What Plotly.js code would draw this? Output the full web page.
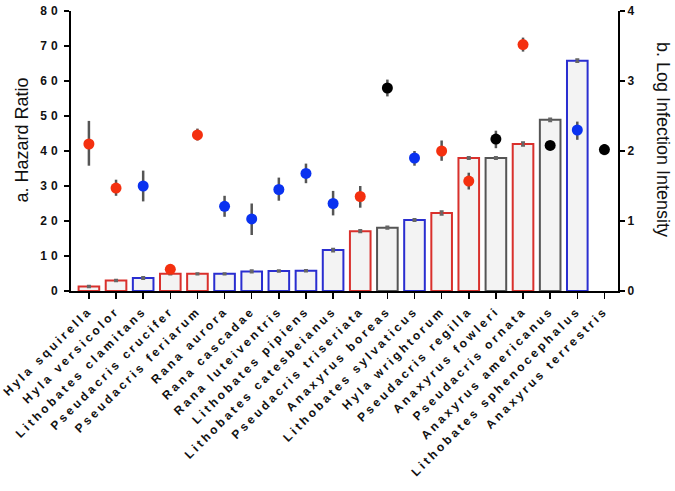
<!DOCTYPE html>
<html>
<head>
<meta charset="utf-8">
<script src="https://cdn.plot.ly/plotly-3.0.1.min.js"></script>
<style>
  html, body { margin:0; padding:0; background:#fff; }
  #chart { width:675px; height:491px; }
  .xtick text { letter-spacing: 3px; }
  .ytick text { letter-spacing: 4px; }
</style>
</head>
<body>
<div id="chart"></div>
<script>
// Species (x categories)
const species = [
  "Hyla squirella","Hyla versicolor","Lithobates clamitans","Pseudacris crucifer",
  "Pseudacris feriarum","Rana aurora","Rana cascadae","Rana luteiventris",
  "Lithobates pipiens","Lithobates catesbeianus","Pseudacris triseriata","Anaxyrus boreas",
  "Lithobates sylvaticus","Hyla wrightorum","Pseudacris regilla","Anaxyrus fowleri",
  "Pseudacris ornata","Anaxyrus americanus","Lithobates sphenocephalus","Anaxyrus terrestris"
];
// Group of each species: r = red, b = blue, k = black/gray
const groups = ["r","r","b","r","r","b","b","b","b","b","r","k","b","r","r","k","r","k","b","k"];

// a. Hazard ratio (bars, left axis)
const hazardRatio = [1.3, 3.0, 3.7, 4.9, 4.9, 4.9, 5.6, 5.7, 5.8, 11.7, 17.1, 18.1, 20.3, 22.3, 38.0, 38.0, 42.0, 48.9, 65.8, null];
const hazardErr   = [0.2, 0.2, 0.3, 0.2, 0.2, 0.2, 0.3, 0.2, 0.2, 0.4, 0.3, 0.3, 0.3, 0.5, 0.3, 0.3, 0.5, 0.4, 0.4, null];

// b. Log infection intensity (points, right axis)
const logIntensity = [2.10, 1.47, 1.50, 0.31, 2.23, 1.21, 1.03, 1.45, 1.68, 1.25, 1.35, 2.90, 1.90, 2.00, 1.57, 2.17, 3.52, 2.08, 2.30, 2.02];
const intensityUp  = [0.33, 0.12, 0.22, 0.00, 0.09, 0.15, 0.22, 0.17, 0.14, 0.18, 0.15, 0.12, 0.10, 0.15, 0.12, 0.12, 0.10, 0.05, 0.12, 0.08];
const intensityDn  = [0.31, 0.11, 0.22, 0.00, 0.08, 0.15, 0.23, 0.16, 0.14, 0.17, 0.16, 0.12, 0.11, 0.14, 0.12, 0.13, 0.10, 0.05, 0.14, 0.08];

const barLineColors = {r:"#d9302c", b:"#2a2ed0", k:"#555555"};
const dotColors     = {r:"#f4300f", b:"#0a32f0", k:"#000000"};

const fontFam = "Liberation Sans, Arial, Helvetica, sans-serif";

const bars = {
  type: "bar",
  x: species,
  y: hazardRatio,
  width: 0.76,
  marker: {
    color: "#f3f3f3",
    line: { color: groups.map(g => barLineColors[g]), width: 2 }
  },
  error_y: { type: "data", array: hazardErr, visible: true, color: "#666", thickness: 2, width: 2 },
  yaxis: "y",
  hoverinfo: "x+y",
  showlegend: false
};

const dots = {
  type: "scatter",
  mode: "markers",
  x: species,
  y: logIntensity,
  marker: { color: groups.map(g => dotColors[g]), size: 11 },
  error_y: { type: "data", symmetric: false, array: intensityUp, arrayminus: intensityDn,
             visible: true, color: "#555", thickness: 2.5, width: 0 },
  yaxis: "y2",
  showlegend: false
};

const layout = {
  width: 675, height: 491,
  margin: { l: 71, r: 57, t: 11, b: 200 },
  paper_bgcolor: "#fff", plot_bgcolor: "#fff",
  font: { family: fontFam, color: "#111" },
  bargap: 0.2,
  xaxis: {
    type: "category",
    range: [-0.66, 19.5],
    showline: true, linecolor: "#000", linewidth: 2,
    ticks: "outside", ticklen: 6, tickwidth: 1.5, tickcolor: "#000",
    tickangle: -45,
    tickfont: { family: fontFam, size: 12, color: "#111", weight: "bold" },
    showgrid: false, zeroline: false
  },
  yaxis: {
    range: [0, 80], dtick: 10,
    showline: true, linecolor: "#000", linewidth: 2,
    ticks: "outside", ticklen: 5, tickwidth: 1.5, tickcolor: "#000",
    tickfont: { family: fontFam, size: 12, color: "#111", weight: "bold" },
    showgrid: false, zeroline: false
  },
  yaxis2: {
    range: [0, 4], dtick: 1,
    overlaying: "y", side: "right",
    showline: true, linecolor: "#000", linewidth: 2,
    ticks: "outside", ticklen: 5, tickwidth: 1.5, tickcolor: "#000",
    tickfont: { family: fontFam, size: 12, color: "#111", weight: "bold" },
    showgrid: false, zeroline: false
  },
  annotations: [
    { text: "a. Hazard Ratio", xref: "paper", yref: "paper", x: -0.09, y: 0.54,
      xanchor: "center", yanchor: "middle", textangle: -90, showarrow: false,
      font: { family: fontFam, size: 18, color: "#111" } },
    { text: "b. Log Infection Intensity", xref: "paper", yref: "paper", x: 1.082, y: 0.54,
      xanchor: "center", yanchor: "middle", textangle: 90, showarrow: false,
      font: { family: fontFam, size: 18, color: "#111" } }
  ]
};

Plotly.newPlot("chart", [bars, dots], layout, { displayModeBar: false, staticPlot: true });
</script>
</body>
</html>
